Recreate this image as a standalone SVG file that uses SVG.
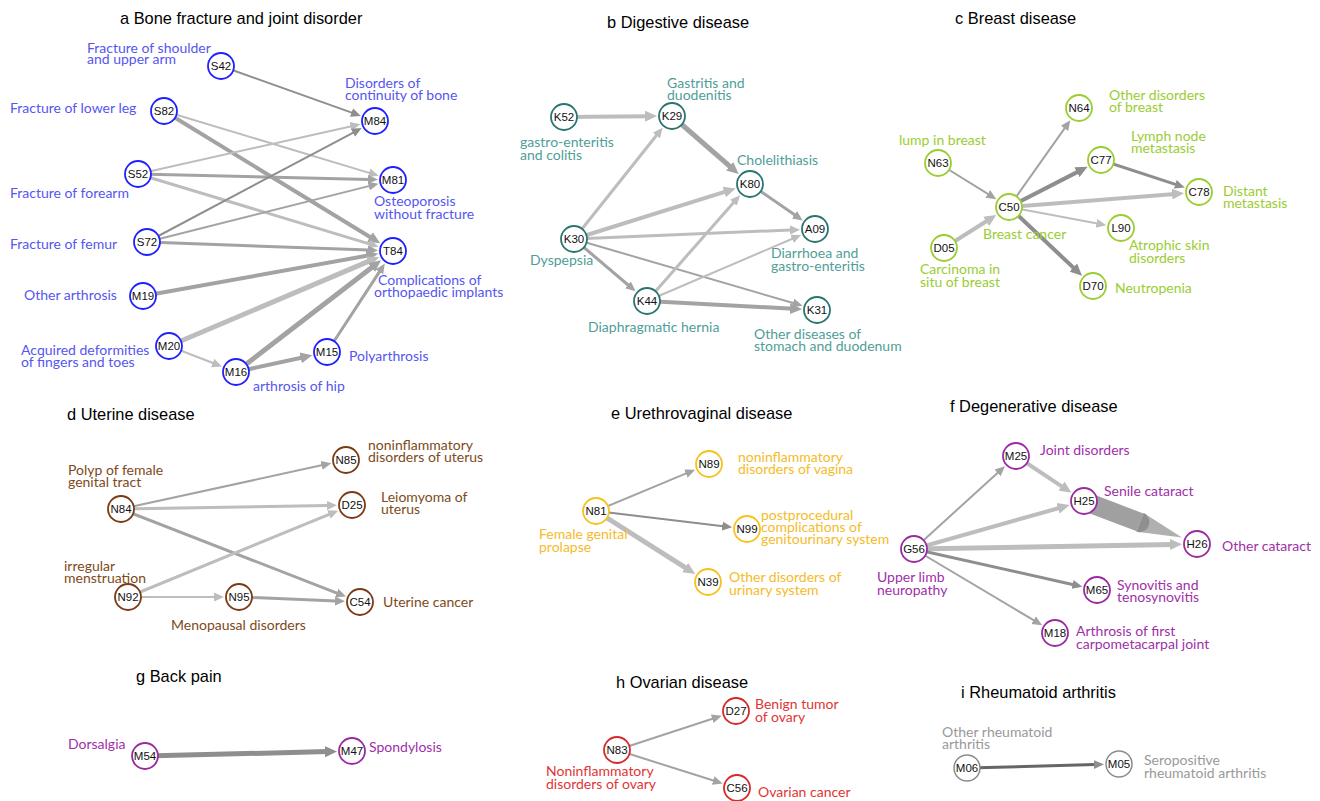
<svg xmlns="http://www.w3.org/2000/svg" width="1320" height="801" viewBox="0 0 1320 801">
<style>
.t{font-family:"Liberation Sans",Arial,sans-serif;font-size:16.4px;fill:#000}
.n circle{fill:#fff;stroke-width:1.8}
.n text{font-family:"Liberation Sans",Arial,sans-serif;font-size:11.5px;fill:#111;text-anchor:middle}
.l{font-family:Lato,"Open Sans",sans-serif;font-size:14px}
.a circle{stroke:#1f1fff}.la{fill:#5656f0}
.b circle{stroke:#2a7570}.lb{fill:#4f9e98}
.c circle{stroke:#9acd32}.lc{fill:#9acd32}
.d circle{stroke:#7a3a14}.ld{fill:#7e4a20}
.e circle{stroke:#f7c21c}.le{fill:#f5bb2a}
.f circle{stroke:#9b2aa0}.lf{fill:#a030a8}
.h circle{stroke:#d42a2a}.lh{fill:#e03535}
.i circle{stroke:#8c8c8c;stroke-width:1.5}.li{fill:#999}
.ed{stroke:#8e8e8e;fill:none}.em{stroke:#a3a3a3;fill:none}.el{stroke:#bdbdbd;fill:none}
.s.ed{marker-end:url(#sD)}.s.em{marker-end:url(#sM)}.s.el{marker-end:url(#sL)}
.g.ed{marker-end:url(#gD)}.g.em{marker-end:url(#gM)}.g.el{marker-end:url(#gL)}
</style>
<defs>
<marker id="sD" markerUnits="userSpaceOnUse" viewBox="0 -6 13 12" markerWidth="13" markerHeight="12" refX="1" refY="0" orient="auto"><path d="M0,-4.5L10,0L0,4.5Z" fill="#8e8e8e"/></marker>
<marker id="sM" markerUnits="userSpaceOnUse" viewBox="0 -6 13 12" markerWidth="13" markerHeight="12" refX="1" refY="0" orient="auto"><path d="M0,-4.5L10,0L0,4.5Z" fill="#a3a3a3"/></marker>
<marker id="sL" markerUnits="userSpaceOnUse" viewBox="0 -6 13 12" markerWidth="13" markerHeight="12" refX="1" refY="0" orient="auto"><path d="M0,-4.5L10,0L0,4.5Z" fill="#bdbdbd"/></marker>
<marker id="gD" markerUnits="userSpaceOnUse" viewBox="0 -6 13 12" markerWidth="13" markerHeight="12" refX="3" refY="0" orient="auto"><path d="M0,-5.5L12,0L0,5.5Z" fill="#8e8e8e"/></marker>
<marker id="gM" markerUnits="userSpaceOnUse" viewBox="0 -6 13 12" markerWidth="13" markerHeight="12" refX="3" refY="0" orient="auto"><path d="M0,-5.5L12,0L0,5.5Z" fill="#a3a3a3"/></marker>
<marker id="gL" markerUnits="userSpaceOnUse" viewBox="0 -6 13 12" markerWidth="13" markerHeight="12" refX="3" refY="0" orient="auto"><path d="M0,-5.5L12,0L0,5.5Z" fill="#bdbdbd"/></marker>
</defs>
<rect width="1320" height="801" fill="#fff"/>

<g id="titles">
<text class="t" x="120" y="24">a Bone fracture and joint disorder</text>
<text class="t" x="607" y="28">b Digestive disease</text>
<text class="t" x="955" y="24">c Breast disease</text>
<text class="t" x="67" y="420">d Uterine disease</text>
<text class="t" x="611" y="419">e Urethrovaginal disease</text>
<text class="t" x="950" y="412">f Degenerative disease</text>
<text class="t" x="136" y="682">g Back pain</text>
<text class="t" x="616" y="688">h Ovarian disease</text>
<text class="t" x="961" y="698">i Rheumatoid arthritis</text>
</g>

<g id="connectors">
<!-- a -->
<line class="s ed" stroke-width="2" x1="221" y1="66" x2="352.4" y2="112.9"/>
<line class="s el" stroke-width="2" x1="164" y1="111" x2="370" y2="173.1"/>
<line class="g em" stroke-width="4" x1="164" y1="111" x2="372.5" y2="238.5"/>
<line class="s el" stroke-width="2" x1="138" y1="174" x2="351.6" y2="126.2"/>
<line class="s em" stroke-width="3" x1="138" y1="174" x2="369" y2="179.4"/>
<line class="s el" stroke-width="3" x1="138" y1="174" x2="370" y2="244.1"/>
<line class="s ed" stroke-width="2" x1="147" y1="242" x2="353.8" y2="132.3"/>
<line class="s em" stroke-width="2" x1="147" y1="242" x2="369.7" y2="185.9"/>
<line class="s em" stroke-width="3" x1="147" y1="242" x2="369" y2="250.1"/>
<line class="g em" stroke-width="4" x1="143" y1="296" x2="369.4" y2="255.3"/>
<line class="g el" stroke-width="5" x1="169" y1="346" x2="370.9" y2="260.4"/>
<line class="s el" stroke-width="2" x1="169" y1="346" x2="213.6" y2="363.3"/>
<line class="g em" stroke-width="5" x1="236" y1="372" x2="374" y2="265.7"/>
<line class="g em" stroke-width="4" x1="236" y1="372" x2="303.6" y2="357.2"/>
<line class="s em" stroke-width="3" x1="327" y1="352" x2="379.9" y2="271.1"/>
<!-- b -->
<line class="g el" stroke-width="4" x1="564" y1="117" x2="648" y2="116.2"/>
<line class="g em" stroke-width="5" x1="672" y1="116" x2="731.9" y2="168.2"/>
<line class="s el" stroke-width="3" x1="574" y1="239" x2="657" y2="134.8"/>
<line class="g el" stroke-width="4" x1="574" y1="239" x2="727.1" y2="191.2"/>
<line class="s el" stroke-width="3" x1="574" y1="239" x2="791" y2="230"/>
<line class="s em" stroke-width="3" x1="574" y1="239" x2="628.7" y2="285.5"/>
<line class="s em" stroke-width="2" x1="574" y1="239" x2="794" y2="303.3"/>
<line class="s el" stroke-width="3" x1="647" y1="301" x2="734.1" y2="202"/>
<line class="s el" stroke-width="2" x1="647" y1="301" x2="792.9" y2="238.5"/>
<line class="g em" stroke-width="4" x1="647" y1="301" x2="793" y2="308.7"/>
<line class="s em" stroke-width="3" x1="750" y1="184" x2="795.3" y2="215.3"/>
<!-- c -->
<line class="s em" stroke-width="2" x1="938" y1="163" x2="988.6" y2="194.4"/>
<line class="g el" stroke-width="4" x1="944" y1="248" x2="988.7" y2="219.8"/>
<line class="s em" stroke-width="2" x1="1009" y1="207" x2="1065.1" y2="127.6"/>
<line class="g ed" stroke-width="4" x1="1009" y1="207" x2="1079.6" y2="170.9"/>
<line class="g el" stroke-width="4" x1="1009" y1="207" x2="1175.1" y2="193.9"/>
<line class="s el" stroke-width="2" x1="1009" y1="207" x2="1097.4" y2="223.6"/>
<line class="g ed" stroke-width="4" x1="1009" y1="207" x2="1075.5" y2="269.6"/>
<line class="s ed" stroke-width="3" x1="1101" y1="160" x2="1176.2" y2="184.6"/>
<!-- d -->
<line class="s em" stroke-width="2" x1="121" y1="509" x2="322.6" y2="465.1"/>
<line class="s el" stroke-width="3" x1="121" y1="509" x2="328" y2="505.4"/>
<line class="s em" stroke-width="3" x1="121" y1="509" x2="337.6" y2="593.3"/>
<line class="s el" stroke-width="3" x1="128" y1="597" x2="329.8" y2="514.1"/>
<line class="s el" stroke-width="2" x1="128" y1="597" x2="215" y2="597"/>
<line class="s em" stroke-width="3" x1="239" y1="597" x2="336" y2="601"/>
<!-- e -->
<line class="s em" stroke-width="2" x1="596" y1="511" x2="686.8" y2="473.2"/>
<line class="s ed" stroke-width="2" x1="596" y1="511" x2="723.2" y2="526.2"/>
<line class="g el" stroke-width="5" x1="596" y1="511" x2="687.7" y2="569.2"/>
<!-- f -->
<line class="s em" stroke-width="2" x1="914" y1="549" x2="998.3" y2="472.2"/>
<line class="g el" stroke-width="4" x1="914" y1="549" x2="1060.9" y2="507.5"/>
<line class="g el" stroke-width="5" x1="914" y1="549" x2="1173" y2="544.4"/>
<line class="s ed" stroke-width="3" x1="914" y1="549" x2="1073.6" y2="584.7"/>
<line class="s em" stroke-width="2" x1="914" y1="549" x2="1034.4" y2="620.7"/>
<line class="g el" stroke-width="4" x1="1016" y1="456" x2="1064" y2="487.8"/>
<line stroke="#a0a0a0" stroke-width="19" x1="1084" y1="501" x2="1140.1" y2="522.4"/>
<path d="M1143.7,513.1L1182,537.5L1136.5,531.7Z" fill="#b0b0b0"/>
<path d="M1143.7,513.1A10,10 0 0 1 1136.5,531.7Z" fill="#8f8f8f"/>
<!-- g -->
<line class="g ed" stroke-width="5" x1="145" y1="756" x2="328" y2="751.6"/>
<!-- h -->
<line class="s em" stroke-width="2" x1="617" y1="750" x2="713.2" y2="718.5"/>
<line class="s em" stroke-width="2" x1="617" y1="750" x2="714.1" y2="780.8"/>
<!-- i -->
<line stroke="#666" stroke-width="3" x1="967" y1="768" x2="1095" y2="764.6" marker-end="url(#sD)"/>
</g>

<g id="panel-a" class="a">
<g id="S42" class="n"><circle cx="221" cy="66" r="13"/><text x="221" y="70">S42</text></g>
<g id="S82" class="n"><circle cx="164" cy="111" r="13"/><text x="164" y="115">S82</text></g>
<g id="S52" class="n"><circle cx="138" cy="174" r="13"/><text x="138" y="178">S52</text></g>
<g id="S72" class="n"><circle cx="147" cy="242" r="13"/><text x="147" y="246">S72</text></g>
<g id="M19" class="n"><circle cx="143" cy="296" r="13"/><text x="143" y="300">M19</text></g>
<g id="M20" class="n"><circle cx="169" cy="346" r="13"/><text x="169" y="350">M20</text></g>
<g id="M16" class="n"><circle cx="236" cy="372" r="13"/><text x="236" y="376">M16</text></g>
<g id="M84" class="n"><circle cx="375" cy="121" r="13"/><text x="375" y="125">M84</text></g>
<g id="M81" class="n"><circle cx="393" cy="180" r="13"/><text x="393" y="184">M81</text></g>
<g id="T84" class="n"><circle cx="393" cy="251" r="13"/><text x="393" y="255">T84</text></g>
<g id="M15" class="n"><circle cx="327" cy="352" r="13"/><text x="327" y="356">M15</text></g>
<g class="l la">
<text x="87" y="53">Fracture of shoulder<tspan x="87" dy="11">and upper arm</tspan></text>
<text x="10" y="113">Fracture of lower leg</text>
<text x="10" y="198">Fracture of forearm</text>
<text x="10" y="249">Fracture of femur</text>
<text x="24" y="300">Other arthrosis</text>
<text x="21" y="355">Acquired deformities<tspan x="21" dy="12">of fingers and toes</tspan></text>
<text x="253" y="391">arthrosis of hip</text>
<text x="349" y="361">Polyarthrosis</text>
<text x="345" y="88">Disorders of<tspan x="345" dy="12">continuity of bone</tspan></text>
<text x="374" y="206">Osteoporosis<tspan x="374" dy="13">without fracture</tspan></text>
<text x="378" y="285">Complications of<tspan x="374" dy="12">orthopaedic implants</tspan></text>
</g>
</g>

<g id="panel-b" class="b">
<g id="K52" class="n"><circle cx="564" cy="117" r="13"/><text x="564" y="121">K52</text></g>
<g id="K29" class="n"><circle cx="672" cy="116" r="13"/><text x="672" y="120">K29</text></g>
<g id="K80" class="n"><circle cx="750" cy="184" r="13"/><text x="750" y="188">K80</text></g>
<g id="A09" class="n"><circle cx="815" cy="229" r="13"/><text x="815" y="233">A09</text></g>
<g id="K30" class="n"><circle cx="574" cy="239" r="13"/><text x="574" y="243">K30</text></g>
<g id="K44" class="n"><circle cx="647" cy="301" r="13"/><text x="647" y="305">K44</text></g>
<g id="K31" class="n"><circle cx="817" cy="310" r="13"/><text x="817" y="314">K31</text></g>
<g class="l lb">
<text x="520" y="147">gastro-enteritis<tspan x="520" dy="13">and colitis</tspan></text>
<text x="667" y="88">Gastritis and<tspan x="667" dy="12">duodenitis</tspan></text>
<text x="737" y="165">Cholelithiasis</text>
<text x="530" y="265">Dyspepsia</text>
<text x="771" y="258">Diarrhoea and<tspan x="771" dy="13">gastro-enteritis</tspan></text>
<text x="588" y="332">Diaphragmatic hernia</text>
<text x="754" y="339">Other diseases of<tspan x="754" dy="12">stomach and duodenum</tspan></text>
</g>
</g>

<g id="panel-c" class="c">
<g id="N64" class="n"><circle cx="1079" cy="108" r="13"/><text x="1079" y="112">N64</text></g>
<g id="N63" class="n"><circle cx="938" cy="163" r="13"/><text x="938" y="167">N63</text></g>
<g id="C77" class="n"><circle cx="1101" cy="160" r="13"/><text x="1101" y="164">C77</text></g>
<g id="C50" class="n"><circle cx="1009" cy="207" r="13"/><text x="1009" y="211">C50</text></g>
<g id="C78" class="n"><circle cx="1199" cy="192" r="13"/><text x="1199" y="196">C78</text></g>
<g id="L90" class="n"><circle cx="1121" cy="228" r="13"/><text x="1121" y="232">L90</text></g>
<g id="D05" class="n"><circle cx="944" cy="248" r="13"/><text x="944" y="252">D05</text></g>
<g id="D70" class="n"><circle cx="1093" cy="286" r="13"/><text x="1093" y="290">D70</text></g>
<g class="l lc">
<text x="1109" y="100">Other disorders<tspan x="1109" dy="12">of breast</tspan></text>
<text x="899" y="145">lump in breast</text>
<text x="1131" y="141">Lymph node<tspan x="1131" dy="12">metastasis</tspan></text>
<text x="1223" y="196">Distant<tspan x="1223" dy="12">metastasis</tspan></text>
<text x="983" y="239">Breast cancer</text>
<text x="1129" y="250">Atrophic skin<tspan x="1129" dy="13">disorders</tspan></text>
<text x="920" y="274">Carcinoma in<tspan x="920" dy="13">situ of breast</tspan></text>
<text x="1115" y="293">Neutropenia</text>
</g>
</g>

<g id="panel-d" class="d">
<g id="N85" class="n"><circle cx="346" cy="460" r="13"/><text x="346" y="464">N85</text></g>
<g id="N84" class="n"><circle cx="121" cy="509" r="13"/><text x="121" y="513">N84</text></g>
<g id="D25" class="n"><circle cx="352" cy="505" r="13"/><text x="352" y="509">D25</text></g>
<g id="N92" class="n"><circle cx="128" cy="597" r="13"/><text x="128" y="601">N92</text></g>
<g id="N95" class="n"><circle cx="239" cy="597" r="13"/><text x="239" y="601">N95</text></g>
<g id="C54" class="n"><circle cx="360" cy="602" r="13"/><text x="360" y="606">C54</text></g>
<g class="l ld">
<text x="368" y="450">noninflammatory<tspan x="368" dy="12">disorders of uterus</tspan></text>
<text x="68" y="475">Polyp of female<tspan x="68" dy="12">genital tract</tspan></text>
<text x="381" y="502">Leiomyoma of<tspan x="381" dy="12">uterus</tspan></text>
<text x="64" y="571">irregular<tspan x="64" dy="12">menstruation</tspan></text>
<text x="383" y="607">Uterine cancer</text>
<text x="171" y="630">Menopausal disorders</text>
</g>
</g>

<g id="panel-e" class="e">
<g id="N89" class="n"><circle cx="709" cy="464" r="13"/><text x="709" y="468">N89</text></g>
<g id="N81" class="n"><circle cx="596" cy="511" r="13"/><text x="596" y="515">N81</text></g>
<g id="N99" class="n"><circle cx="747" cy="529" r="13"/><text x="747" y="533">N99</text></g>
<g id="N39" class="n"><circle cx="708" cy="582" r="13"/><text x="708" y="586">N39</text></g>
<g class="l le">
<text x="738" y="462">noninflammatory<tspan x="738" dy="12">disorders of vagina</tspan></text>
<text x="539" y="539">Female genital<tspan x="539" dy="13">prolapse</tspan></text>
<text x="761" y="520">postprocedural<tspan x="761" dy="12">complications of</tspan><tspan x="761" dy="12">genitourinary system</tspan></text>
<text x="729" y="582">Other disorders of<tspan x="729" dy="13">urinary system</tspan></text>
</g>
</g>

<g id="panel-f" class="f">
<g id="M25" class="n"><circle cx="1016" cy="456" r="13"/><text x="1016" y="460">M25</text></g>
<g id="H25" class="n"><circle cx="1084" cy="501" r="13"/><text x="1084" y="505">H25</text></g>
<g id="G56" class="n"><circle cx="914" cy="549" r="13"/><text x="914" y="553">G56</text></g>
<g id="H26" class="n"><circle cx="1197" cy="544" r="13"/><text x="1197" y="548">H26</text></g>
<g id="M65" class="n"><circle cx="1097" cy="590" r="13"/><text x="1097" y="594">M65</text></g>
<g id="M18" class="n"><circle cx="1055" cy="633" r="13"/><text x="1055" y="637">M18</text></g>
<g class="l lf">
<text x="1040" y="455">Joint disorders</text>
<text x="1104" y="496">Senile cataract</text>
<text x="1222" y="551">Other cataract</text>
<text x="877" y="582">Upper limb<tspan x="877" dy="13">neuropathy</tspan></text>
<text x="1117" y="590">Synovitis and<tspan x="1117" dy="12">tenosynovitis</tspan></text>
<text x="1076" y="636">Arthrosis of first<tspan x="1076" dy="13">carpometacarpal joint</tspan></text>
</g>
</g>

<g id="panel-g" class="f">
<g id="M54" class="n"><circle cx="145" cy="756" r="13"/><text x="145" y="760">M54</text></g>
<g id="M47" class="n"><circle cx="352" cy="751" r="13"/><text x="352" y="755">M47</text></g>
<g class="l lf">
<text x="68" y="749">Dorsalgia</text>
<text x="369" y="752">Spondylosis</text>
</g>
</g>

<g id="panel-h" class="h">
<g id="D27" class="n"><circle cx="736" cy="711" r="13"/><text x="736" y="715">D27</text></g>
<g id="N83" class="n"><circle cx="617" cy="750" r="13"/><text x="617" y="754">N83</text></g>
<g id="C56" class="n"><circle cx="737" cy="788" r="13"/><text x="737" y="792">C56</text></g>
<g class="l lh">
<text x="755" y="709">Benign tumor<tspan x="755" dy="13">of ovary</tspan></text>
<text x="546" y="776">Noninflammatory<tspan x="546" dy="13">disorders of ovary</tspan></text>
<text x="758" y="797">Ovarian cancer</text>
</g>
</g>

<g id="panel-i" class="i">
<g id="M06" class="n"><circle cx="967" cy="768" r="13"/><text x="967" y="772">M06</text></g>
<g id="M05" class="n"><circle cx="1119" cy="764" r="13"/><text x="1119" y="768">M05</text></g>
<g class="l li">
<text x="942" y="737">Other rheumatoid<tspan x="942" dy="12">arthritis</tspan></text>
<text x="1144" y="765">Seropositive<tspan x="1144" dy="13">rheumatoid arthritis</tspan></text>
</g>
</g>
</svg>
